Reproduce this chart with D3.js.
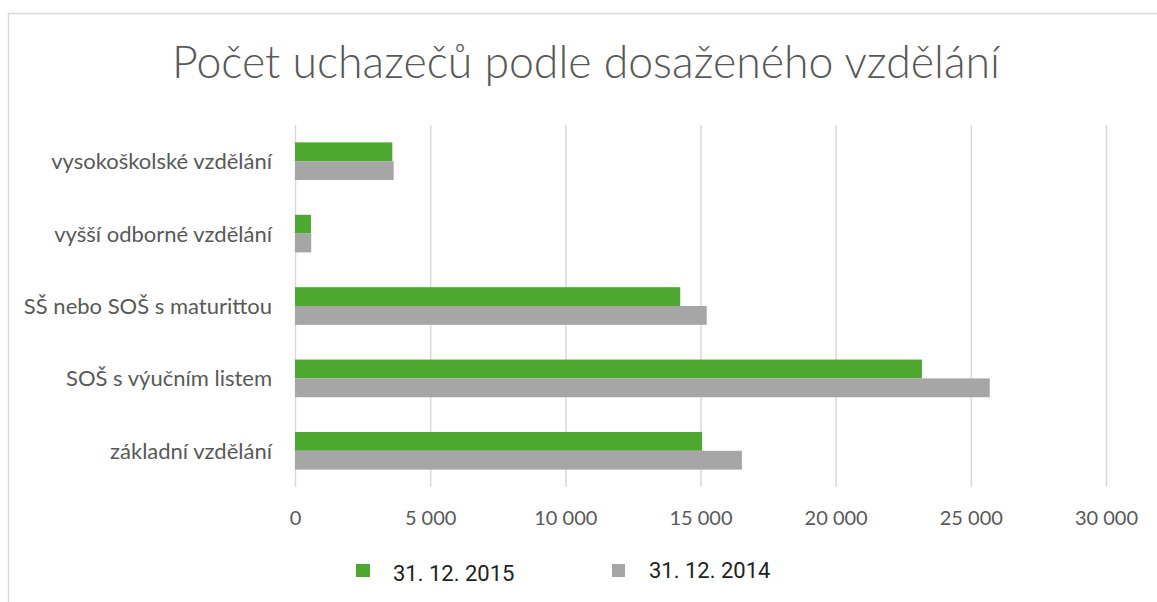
<!DOCTYPE html>
<html>
<head>
<meta charset="utf-8">
<script src="https://cdn.jsdelivr.net/npm/d3@7"></script>
<style>
  body { margin: 0; background: #fff; }
  svg { display: block; }
</style>
</head>
<body>
<div id="chart"></div>
<script>
// données
const categories = [
  "vysokoškolské vzdělání",
  "vyšší odborné vzdělání",
  "SŠ nebo SOŠ s maturittou",
  "SOŠ s výučním listem",
  "základní vzdělání"
];
const seriesNames = ["31. 12. 2015", "31. 12. 2014"];
const values2015 = [3600, 590, 14250, 23190, 15060];
const values2014 = [3650, 600, 15230, 25700, 16530];
const tickValues = [0, 5000, 10000, 15000, 20000, 25000, 30000];

const colors = ["#4ea72e", "#a6a6a6"];
const W = 1157, H = 602;

const svg = d3.select("#chart").append("svg")
  .attr("width", W).attr("height", H);

// cadre gris
svg.append("rect")
  .attr("x", 8.5).attr("y", 13.5)
  .attr("width", 1300).attr("height", 800)
  .attr("fill", "none").attr("stroke", "#d9d9d9").attr("stroke-width", 1.5);

svg.append("text")
  .attr("x", 172).attr("y", 78)
  .attr("textLength", 828).attr("lengthAdjust", "spacingAndGlyphs")
  .attr("font-family", "Lato, 'Open Sans', sans-serif")
  .attr("font-weight", 300)
  .attr("font-size", 46)
  .attr("fill", "#595959")
  .text("Počet uchazečů podle dosaženého vzdělání");

const x = d3.scaleLinear().domain([0, 30000]).range([295, 1106]);
const y = d3.scaleBand().domain(categories).range([125, 487])
  .paddingInner(0.48).paddingOuter(0.24);
const ySub = d3.scaleBand().domain([0, 1]).range([0, y.bandwidth()]);

const loc = d3.formatLocale({decimal: ",", thousands: " ", grouping: [3], currency: ["", ""]});
const fmt = loc.format(",d");

// grille + étiquettes x
const gx = svg.append("g")
  .attr("transform", "translate(0,487)")
  .call(d3.axisBottom(x).tickValues(tickValues).tickFormat(fmt)
    .tickSize(-(487 - 125)).tickPadding(24));
gx.select(".domain").remove();
gx.selectAll(".tick line").attr("stroke", "#d9d9d9").attr("stroke-width", 1.5);
gx.selectAll(".tick text")
  .attr("fill", "#595959")
  .attr("font-family", "Lato, sans-serif")
  .attr("font-size", 20);

// barres
const data = categories.map((c, i) => ({cat: c, vals: [values2015[i], values2014[i]]}));
const groups = svg.append("g").selectAll("g")
  .data(data).enter().append("g")
  .attr("transform", d => `translate(0,${y(d.cat)})`);
groups.selectAll("rect")
  .data(d => d.vals)
  .enter().append("rect")
  .attr("x", x(0))
  .attr("y", (d, i) => ySub(i))
  .attr("width", d => x(d) - x(0))
  .attr("height", ySub.bandwidth())
  .attr("fill", (d, i) => colors[i]);

// étiquettes catégories
const gy = svg.append("g")
  .attr("transform", "translate(295,0)")
  .call(d3.axisLeft(y).tickSize(0).tickPadding(23));
gy.select(".domain").remove();
gy.selectAll(".tick text")
  .attr("fill", "#595959")
  .attr("font-family", "Lato, sans-serif")
  .attr("font-size", 22)
  .attr("dy", "0.36em");

// légende
const legendX = [356, 612];
const legendTextY = [581, 578];
const leg = svg.append("g").selectAll("g")
  .data(seriesNames).enter().append("g");
leg.append("rect")
  .attr("x", (d, i) => legendX[i]).attr("y", 564)
  .attr("width", (d, i) => i === 0 ? 14 : 13).attr("height", 13)
  .attr("fill", (d, i) => colors[i]);
leg.append("text")
  .attr("x", (d, i) => legendX[i] + 37)
  .attr("y", (d, i) => legendTextY[i])
  .attr("font-family", "Roboto, sans-serif")
  .attr("font-size", 22)
  .attr("fill", "#222")
  .text(d => d);
</script>
</body>
</html>
